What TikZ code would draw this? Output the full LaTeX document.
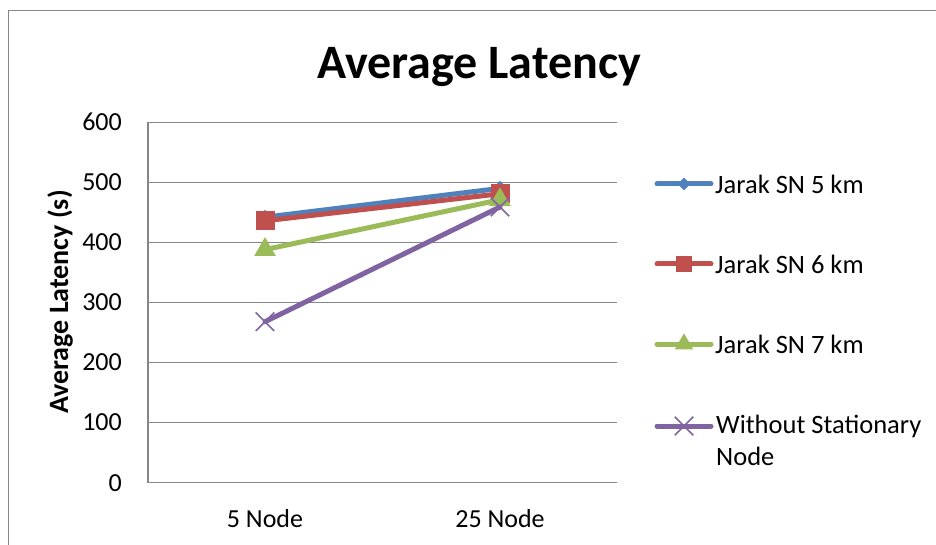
\documentclass[tikz,border=0pt]{standalone}
\usepackage{fontspec}
\setmainfont{Carlito}
\usetikzlibrary{positioning, calc, shapes.geometric, shapes.misc}
\definecolor{snblue}{HTML}{4F81BD}
\definecolor{snred}{HTML}{C0504D}
\definecolor{sngreen}{HTML}{9BBB59}
\definecolor{snpurple}{HTML}{8064A2}
\definecolor{axisgray}{HTML}{868686}

\begin{document}
\begin{tikzpicture}[x=1pt, y=1pt,
    frame/.style={draw=axisgray, line width=1.3pt},
    gridline/.style={draw=axisgray, line width=1.3pt},
    ticklbl/.style={font=\fontsize{26}{28}\selectfont, anchor=east, inner sep=0pt},
    catlbl/.style={font=\fontsize{26}{28}\selectfont, inner sep=0pt},
    leglbl/.style={font=\fontsize{26.5}{32}\selectfont, anchor=west, inner sep=0pt, align=left},
    series/.style={line width=5pt, line cap=round, line join=round},
    dmark/.style={diamond, fill=snblue, minimum width=15pt, minimum height=15pt, inner sep=0pt},
    smark/.style={rectangle, fill=snred, minimum size=19pt, inner sep=0pt},
    tmark/.style={regular polygon, regular polygon sides=3, fill=sngreen, minimum size=25pt, inner sep=0pt},
    xmark/.style={cross out, draw=snpurple, line width=1.5pt, minimum size=17pt, inner sep=0pt},
  ]
  \useasboundingbox (0,0) rectangle (936,544);
  % chart area border (right and bottom run off the page)
  \draw[frame] (8.5,-10) -- (8.5,533.5) -- (950,533.5);

  % title
  \node[font=\fontsize{48}{52}\selectfont\bfseries, anchor=base] (title) at (479,465) {Average Latency};

  % plot area: origin at the 0 gridline, 100 units = 60.07pt
  \begin{scope}[shift={(148,61.3)}, y=0.6007pt]
    \foreach \v in {100,200,...,600}
      \draw[gridline] (0,\v) -- (469,\v);
    \draw[gridline] (469,0) -- (0,0) -- (0,600);
    \foreach \v in {0,100,...,600}
      \node[ticklbl] (tick\v) at (-26,\v) {\v};
    \node[catlbl] (cat5) at (117,-60) {5 Node};
    \node[catlbl] (cat25) at (352,-60) {25 Node};

    % data points
    \coordinate (b5) at (117,442);  \coordinate (b25) at (352,490);
    \coordinate (r5) at (117,436);  \coordinate (r25) at (352,481);
    \coordinate (g5) at (117,388);  \coordinate (g25) at (352,471);
    \coordinate (p5) at (117,268);  \coordinate (p25) at (352,459);

    \draw[series, snblue] (b5) -- (b25);
    \node[dmark] at (b5) {}; \node[dmark] at (b25) {};
    \draw[series, snred] (r5) -- (r25);
    \node[smark] at (r5) {}; \node[smark] at (r25) {};
    \draw[series, sngreen] (g5) -- (g25);
    \node[tmark] at (g5) {}; \node[tmark] at (g25) {};
    \draw[series, snpurple] (p5) -- (p25);
    \node[xmark] at (p5) {}; \node[xmark] at (p25) {};
  \end{scope}

  % y axis title
  \node[font=\fontsize{28}{30}\selectfont\bfseries, rotate=90] (ytitle) at (60,242) {Average Latency (s)};

  % legend
  \foreach \name/\col/\mk/\y/\txt in {l1/snblue/dmark/360/{Jarak SN 5 km},
                                     l2/snred/smark/280/{Jarak SN 6 km},
                                     l3/sngreen/tmark/200/{Jarak SN 7 km}} {
    \coordinate (\name a) at (657,\y);
    \coordinate (\name b) at (711,\y);
    \draw[series, \col] (\name a) -- (\name b);
    \node[\mk, scale=0.85] at ($(\name a)!0.5!(\name b)$) {};
    \node[leglbl, right=4pt of \name b] (\name txt) {\txt};
  }
  \coordinate (l4a) at (657,118);
  \coordinate (l4b) at (711,118);
  \draw[series, snpurple] (l4a) -- (l4b);
  \node[xmark] at (684,118) {};
  \node[leglbl, anchor=base west] (l4txt) at (716,79) {Without Stationary\\Node};
\end{tikzpicture}
\end{document}
